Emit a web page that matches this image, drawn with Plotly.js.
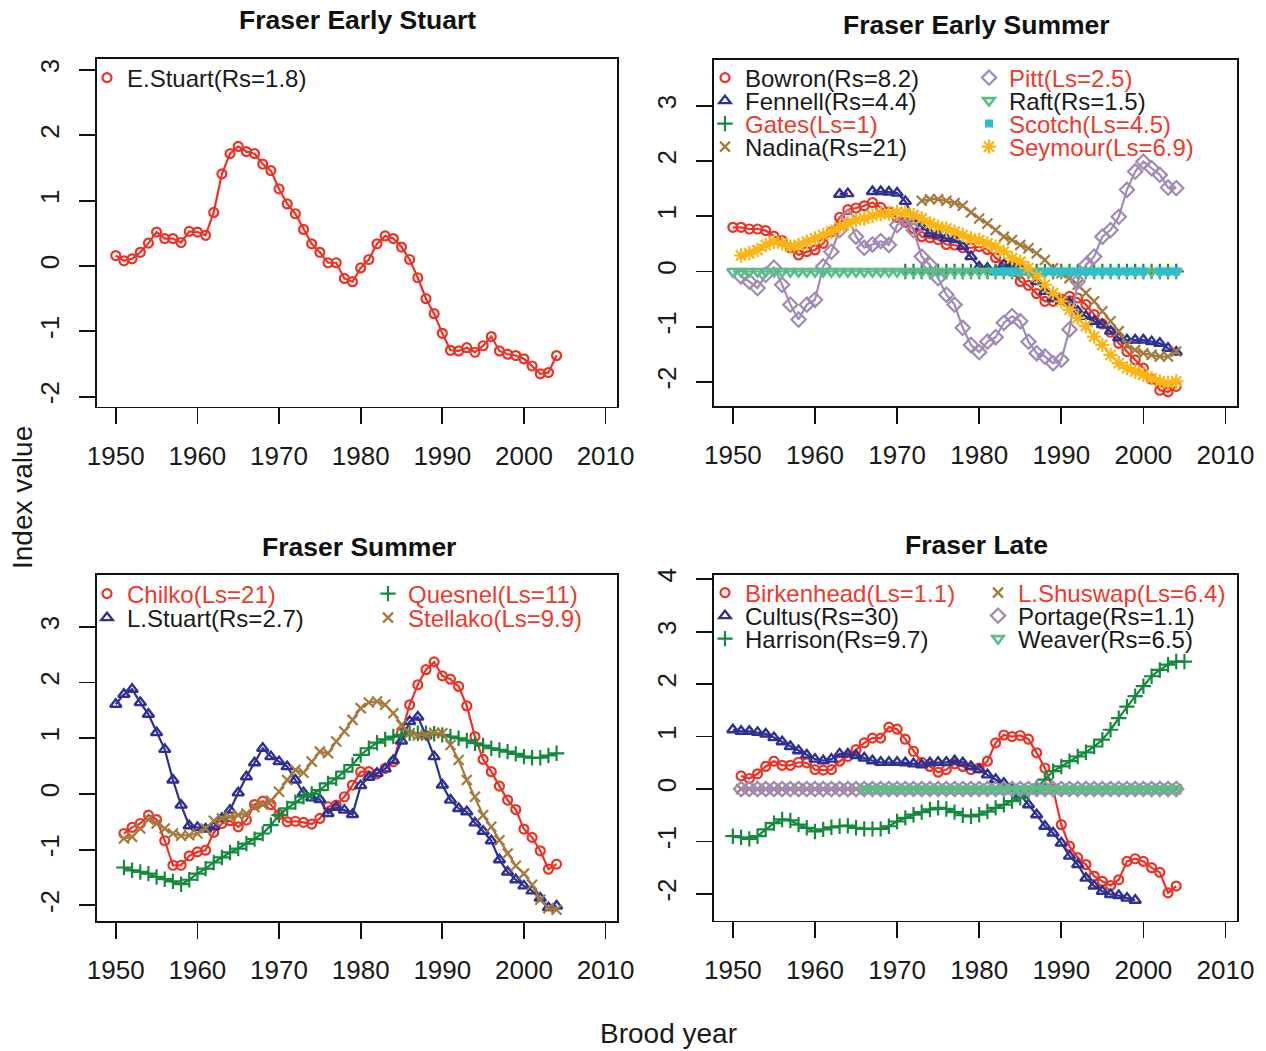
<!DOCTYPE html>
<html>
<head>
<meta charset="utf-8">
<script src="https://cdn.plot.ly/plotly-3.0.1.min.js"></script>
<style>html,body{margin:0;padding:0;background:#fff}#chart{width:1266px;height:1051px}</style>
</head>
<body>
<div id="chart"></div>
<script>
// ---------------- DATA ----------------
const years = [1950,1951,1952,1953,1954,1955,1956,1957,1958,1959,
               1960,1961,1962,1963,1964,1965,1966,1967,1968,1969,
               1970,1971,1972,1973,1974,1975,1976,1977,1978,1979,
               1980,1981,1982,1983,1984,1985,1986,1987,1988,1989,
               1990,1991,1992,1993,1994,1995,1996,1997,1998,1999,
               2000,2001,2002,2003,2004,2005];
const xTicks = [1950,1960,1970,1980,1990,2000,2010];

// Fraser Early Stuart
const eStuart = [0.16,0.08,0.11,0.21,0.35,0.52,0.42,0.42,0.36,0.53,
                 0.52,0.47,0.82,1.41,1.72,1.83,1.75,1.72,1.56,1.46,
                 1.18,0.95,0.80,0.56,0.34,0.21,0.05,0.05,-0.19,-0.24,
                 -0.03,0.10,0.34,0.46,0.42,0.29,0.10,-0.18,-0.50,-0.73,
                 -1.03,-1.29,-1.30,-1.25,-1.32,-1.22,-1.08,-1.30,-1.35,-1.37,
                 -1.42,-1.53,-1.65,-1.63,-1.37,null];

// Fraser Early Summer
const bowron = [0.80,0.80,0.77,0.77,0.74,0.64,0.56,0.43,0.30,0.36,
                0.39,0.51,0.72,0.98,1.12,1.15,1.19,1.25,1.16,1.08,
                0.98,0.89,0.78,0.63,0.61,0.58,0.49,0.48,0.43,0.43,
                0.45,0.40,0.25,0.12,0.00,-0.18,-0.25,-0.40,-0.54,-0.54,
                -0.50,-0.45,-0.48,-0.60,-0.78,-0.95,-1.10,-1.30,-1.45,-1.60,
                -1.75,-1.95,-2.15,-2.18,-2.08,null];
const fennell = [null,null,null,null,null,null,null,null,null,null,
                 null,null,null,1.40,1.41,null,null,1.45,1.45,1.44,
                 1.42,1.27,0.96,0.81,0.69,0.66,0.60,0.58,0.45,0.27,
                 0.08,0.06,0.00,0.12,0.12,0.06,0.00,-0.18,-0.36,-0.48,
                 -0.54,-0.57,-0.72,-0.81,-0.90,-0.96,-1.08,-1.20,-1.24,-1.24,
                 -1.24,-1.27,-1.30,-1.39,-1.46,null];
const gates = [null,null,null,null,null,null,null,null,null,null,
               null,null,null,null,null,null,null,null,null,null,
               null,0,0,0,0,0,0,0,0,0,
               0,0,0,0,0,0,0,0,0,0,
               0,0,0,0,0,0,0,0,0,0,
               0,0,0,0,0,null];
const nadina = [null,null,null,null,null,null,null,null,null,null,
                null,null,null,null,null,null,null,null,null,null,
                null,null,null,1.28,1.31,1.31,1.28,1.24,1.19,1.07,
                0.96,0.87,0.75,0.63,0.57,0.48,0.42,0.33,0.21,0.06,
                -0.03,-0.12,-0.24,-0.39,-0.54,-0.72,-0.90,-1.08,-1.33,-1.42,
                -1.48,-1.51,-1.54,-1.54,-1.45,null];
const pitt = [null,-0.09,-0.18,-0.30,-0.06,0.07,-0.24,-0.60,-0.87,-0.60,
              -0.51,0.09,0.36,0.75,0.98,0.63,0.43,0.49,0.55,0.48,
              0.84,0.96,0.75,0.27,0.12,-0.12,-0.42,-0.60,-1.02,-1.33,
              -1.46,-1.27,-1.19,-0.93,-0.81,-0.90,-1.27,-1.48,-1.54,-1.66,
              -1.60,-1.05,-0.18,0.12,0.27,0.63,0.75,0.99,1.48,1.81,
              1.99,1.87,1.75,1.52,1.51,null];
const raft = [0,0,0,0,0,0,0,0,0,0,
              0,0,0,0,0,0,0,0,0,0,
              0,0,0,0,0,0,0,0,0,0,
              0,0,0,0,0,0,0,0,0,0,
              0,0,0,0,0,0,0,0,0,0,
              0,0,0,0,0,null];
const scotch = [null,null,null,null,null,null,null,null,null,null,
                null,null,null,null,null,null,null,null,null,null,
                null,null,null,null,null,null,null,null,null,null,
                null,null,0,0,0,0,0,0,0,0,
                0,0,0,0,0,0,0,0,0,0,
                0,null,0,0,0,null];
const seymour = [null,0.29,0.33,0.39,0.48,0.54,0.51,0.45,0.48,0.54,
                 0.60,0.66,0.72,0.81,0.87,0.93,0.96,1.01,1.04,1.05,
                 1.08,1.07,1.02,0.96,0.87,0.81,0.78,0.72,0.66,0.60,
                 0.57,0.51,0.45,0.36,0.24,0.18,0.06,-0.09,-0.24,-0.39,
                 -0.54,-0.69,-0.84,-0.99,-1.18,-1.33,-1.51,-1.66,-1.75,-1.81,
                 -1.87,-1.93,-1.99,-2.02,-1.99,null];

// Fraser Summer
const chilko = [null,-0.71,-0.60,-0.53,-0.38,-0.46,-0.84,-1.28,-1.28,-1.11,
                -1.04,-1.01,-0.69,-0.53,-0.48,-0.59,-0.47,-0.19,-0.13,-0.19,
                -0.37,-0.50,-0.49,-0.51,-0.54,-0.44,-0.23,-0.20,-0.05,0.16,
                0.40,0.40,0.36,0.46,0.58,1.09,1.60,1.96,2.23,2.37,
                2.12,2.06,1.93,1.58,1.03,0.62,0.40,0.14,-0.11,-0.28,
                -0.63,-0.78,-1.02,-1.35,-1.26,null];
const lStuart = [1.61,1.79,1.88,1.64,1.43,1.10,0.80,0.25,-0.20,-0.57,
                 -0.60,-0.63,-0.59,-0.44,-0.29,0.02,0.31,0.56,0.82,0.67,
                 0.58,0.49,0.25,0.02,-0.07,-0.10,-0.35,-0.24,-0.29,-0.37,
                 0.15,0.30,0.37,0.45,0.60,0.95,1.30,1.38,1.05,0.67,
                 0.16,-0.11,-0.26,-0.32,-0.52,-0.67,-0.84,-1.18,-1.40,-1.54,
                 -1.65,-1.74,-1.87,-2.04,-2.01,null];
const quesnel = [null,-1.32,-1.37,-1.40,-1.43,-1.49,-1.53,-1.57,-1.62,-1.54,
                 -1.43,-1.34,-1.23,-1.14,-1.05,-0.98,-0.89,-0.81,-0.71,-0.56,
                 -0.38,-0.26,-0.15,-0.05,0.00,0.07,0.19,0.28,0.40,0.52,
                 0.70,0.82,0.92,0.98,1.03,1.06,1.09,1.09,1.09,1.08,
                 1.06,1.03,1.00,0.96,0.91,0.87,0.82,0.79,0.76,0.72,
                 0.67,0.65,0.65,0.69,0.73,null];
const stellako = [null,-0.80,-0.77,-0.62,-0.46,-0.53,-0.62,-0.71,-0.75,-0.74,
                  -0.71,-0.62,-0.48,-0.44,-0.41,-0.38,-0.35,-0.24,-0.19,-0.12,
                  0.04,0.25,0.43,0.38,0.58,0.76,0.73,0.94,1.12,1.33,
                  1.54,1.64,1.66,1.60,1.45,1.24,1.09,1.05,1.06,1.10,
                  1.09,0.88,0.61,0.25,-0.05,-0.38,-0.59,-0.83,-1.07,-1.29,
                  -1.43,-1.63,-1.90,-2.05,-2.08,null];

// Fraser Late
const birkenhead = [null,0.25,0.20,0.29,0.43,0.53,0.45,0.45,0.51,0.50,
                    0.37,0.36,0.37,0.53,0.62,0.75,0.88,0.97,0.97,1.18,
                    1.14,0.95,0.72,0.51,0.43,0.32,0.37,0.48,0.43,0.37,
                    0.40,0.53,0.88,1.03,1.00,1.02,0.95,0.69,0.40,0.00,
                    -0.68,-1.09,-1.31,-1.44,-1.66,-1.76,-1.84,-1.73,-1.38,-1.33,
                    -1.38,-1.50,-1.59,-1.98,-1.85,null];
const cultus = [1.13,1.10,1.10,1.08,1.05,0.98,0.90,0.81,0.73,0.65,
                0.57,0.54,0.57,0.67,0.67,0.64,0.59,0.54,0.51,0.51,
                0.51,0.50,0.48,0.46,0.50,0.51,0.51,0.54,0.50,0.43,
                0.37,0.27,0.18,0.11,-0.01,-0.11,-0.30,-0.49,-0.71,-0.84,
                -1.03,-1.28,-1.44,-1.70,-1.85,-1.95,-2.01,-2.03,-2.08,-2.12,
                null,null,null,null,null,null];
const harrison = [-0.90,-0.92,-0.95,-0.90,-0.77,-0.65,-0.58,-0.60,-0.68,-0.74,
                  -0.81,-0.77,-0.73,-0.71,-0.70,-0.74,-0.76,-0.76,-0.76,-0.71,
                  -0.62,-0.55,-0.49,-0.44,-0.39,-0.36,-0.38,-0.44,-0.50,-0.52,
                  -0.49,-0.43,-0.36,-0.30,-0.23,-0.17,-0.08,0.02,0.18,0.34,
                  0.43,0.53,0.62,0.70,0.81,0.94,1.13,1.35,1.57,1.77,
                  1.96,2.15,2.27,2.37,2.43,2.43];
const lShuswap = [null,0,0,0,0,0,0,0,0,0,
                  0,0,0,0,0,0,0,0,0,0,
                  0,0,0,0,0,0,0,0,0,0,
                  0,0,0,0,0,0,0,0,0,0,
                  0,0,0,0,0,0,0,0,0,0,
                  0,0,0,0,0,null];
const portage = [null,0,0,0,0,0,0,0,0,0,
                 0,0,0,0,0,0,0,0,0,0,
                 0,0,0,0,0,0,0,0,0,0,
                 0,0,0,0,0,0,0,0,0,0,
                 0,0,0,0,0,0,0,0,0,0,
                 0,0,0,0,0,null];
const weaver = [null,null,null,null,null,null,null,null,null,null,
                null,null,null,null,null,null,0,0,0,0,
                0,0,0,0,0,0,0,0,0,0,
                0,0,0,0,0,0,0,0,0,0,
                0,0,0,0,0,0,0,0,0,0,
                0,0,0,0,0,null];

// Legend labels
const labelsP1 = ["E.Stuart(Rs=1.8)"];
const labelsP2 = ["Bowron(Rs=8.2)","Fennell(Rs=4.4)","Gates(Ls=1)","Nadina(Rs=21)",
                  "Pitt(Ls=2.5)","Raft(Rs=1.5)","Scotch(Ls=4.5)","Seymour(Ls=6.9)"];
const labelsP3 = ["Chilko(Ls=21)","L.Stuart(Rs=2.7)","Quesnel(Ls=11)","Stellako(Ls=9.9)"];
const labelsP4 = ["Birkenhead(Ls=1.1)","Cultus(Rs=30)","Harrison(Rs=9.7)",
                  "L.Shuswap(Ls=6.4)","Portage(Rs=1.1)","Weaver(Rs=6.5)"];
const titles = ["Fraser Early Stuart","Fraser Early Summer","Fraser Summer","Fraser Late"];

// ---------------- STYLE ----------------
const W = 1266, H = 1051;
const FONT = "Liberation Sans, Arial, Helvetica, sans-serif";
const RED = "#ec3326", BLUE = "#2e3192", GREEN = "#138a3c", BROWN = "#a57a3c",
      PURPLE = "#a08ab6", MINT = "#5cbc8b", CYAN = "#2fbfcc", ORANGE = "#fdb515";
const TXT_RED = "#ee3a2c", TXT_BLK = "#1a1a1a";

const sym = {
  circle: {symbol: "circle-open", size: 9, lw: 2.2},
  tri: {symbol: "triangle-up-open", size: 10, lw: 2.4},
  plus: {symbol: "cross-thin-open", size: 11, lw: 2.2},
  x: {symbol: "x-thin-open", size: 10, lw: 2.2},
  diamond: {symbol: "diamond-open", size: 11, lw: 2.2},
  tridown: {symbol: "triangle-down-open", size: 10, lw: 2.6},
  square: {symbol: "square", size: 8, lw: 0},
  star: {symbol: "asterisk-open", size: 12, lw: 2.2}
};

// box pixel geometry of the four panels [left, right, top, bottom]
const boxes = [
  [97, 617, 59, 406.5],
  [714, 1237, 60, 405.7],
  [97, 617, 575, 920.7],
  [714, 1237, 575, 920.5]
];
const yRanges = [[-2.15, 3.168], [-2.43, 3.83], [-2.275, 3.93], [-2.507, 4.08]];
const yTicks = [[-2,-1,0,1,2,3],[-2,-1,0,1,2,3],[-2,-1,0,1,2,3],[-2,-1,0,1,2,3,4]];

// series: [values, color, symbol, label, textColor, panel, legend text start px, legend row centre px, connectgaps]
const series = [
  [eStuart, RED, "circle", labelsP1[0], TXT_BLK, 0, 127, 78],
  [bowron, RED, "circle", labelsP2[0], TXT_BLK, 1, 745, 78],
  [fennell, BLUE, "tri", labelsP2[1], TXT_BLK, 1, 745, 101],
  [gates, GREEN, "plus", labelsP2[2], TXT_RED, 1, 745, 124],
  [nadina, BROWN, "x", labelsP2[3], TXT_BLK, 1, 745, 147],
  [pitt, PURPLE, "diamond", labelsP2[4], TXT_RED, 1, 1009, 78],
  [raft, MINT, "tridown", labelsP2[5], TXT_BLK, 1, 1009, 101],
  [scotch, CYAN, "square", labelsP2[6], TXT_RED, 1, 1009, 124],
  [seymour, ORANGE, "star", labelsP2[7], TXT_RED, 1, 1009, 147],
  [chilko, RED, "circle", labelsP3[0], TXT_RED, 2, 127, 594],
  [lStuart, BLUE, "tri", labelsP3[1], TXT_BLK, 2, 127, 618],
  [quesnel, GREEN, "plus", labelsP3[2], TXT_RED, 2, 408, 594],
  [stellako, BROWN, "x", labelsP3[3], TXT_RED, 2, 408, 618],
  [birkenhead, RED, "circle", labelsP4[0], TXT_RED, 3, 745, 593],
  [cultus, BLUE, "tri", labelsP4[1], TXT_BLK, 3, 745, 616],
  [harrison, GREEN, "plus", labelsP4[2], TXT_BLK, 3, 745, 639],
  [lShuswap, BROWN, "x", labelsP4[3], TXT_RED, 3, 1018, 593],
  [portage, PURPLE, "diamond", labelsP4[4], TXT_BLK, 3, 1018, 616],
  [weaver, MINT, "tridown", labelsP4[5], TXT_BLK, 3, 1018, 639]
];

const axSuffix = ["", "2", "3", "4"];
const traces = [];
const layout = {
  width: W, height: H,
  margin: {l: 0, r: 0, t: 0, b: 0},
  paper_bgcolor: "#fff", plot_bgcolor: "#fff",
  font: {family: FONT, color: TXT_BLK},
  annotations: [], showlegend: true
};

boxes.forEach((b, i) => {
  const s = axSuffix[i];
  layout["xaxis" + s] = {
    domain: [b[0] / W, b[1] / W], range: [1947.7, 2011.4], anchor: "y" + s,
    tickmode: "array", tickvals: xTicks, ticktext: xTicks.map(String),
    ticks: "outside", ticklen: 16, tickwidth: 1.8, tickcolor: "#111",
    showline: true, mirror: true, linecolor: "#111", linewidth: 1.8,
    showgrid: false, zeroline: false, fixedrange: true,
    tickfont: {family: FONT, size: 26, color: "#1a1a1a"}, ticklabelstandoff: 9
  };
  layout["yaxis" + s] = {
    domain: [1 - b[3] / H, 1 - b[2] / H], range: yRanges[i], anchor: "x" + s,
    tickmode: "array", tickvals: yTicks[i], ticktext: yTicks[i].map(String),
    ticks: "outside", ticklen: 16, tickwidth: 1.8, tickcolor: "#111", tickangle: -90,
    showline: true, mirror: true, linecolor: "#111", linewidth: 1.8,
    showgrid: false, zeroline: false, fixedrange: true,
    tickfont: {family: FONT, size: 26, color: "#1a1a1a"}, ticklabelstandoff: 10
  };
});

series.forEach((sr, k) => {
  const [vals, col, sk, label, tcol, p, lx, ly, connect] = sr;
  const s = axSuffix[p];
  traces.push({
    x: years, y: vals, type: "scatter", mode: "lines",
    xaxis: "x" + s, yaxis: "y" + s, connectgaps: !!connect,
    line: {color: col, width: 2.2}, showlegend: false, hoverinfo: "skip"
  });
  const legName = k === 0 ? "legend" : "legend" + (k + 1);
  traces.push({
    x: years, y: vals, type: "scatter", mode: "markers",
    xaxis: "x" + s, yaxis: "y" + s, name: label, legend: legName,
    marker: {symbol: sym[sk].symbol, size: sym[sk].size, color: col,
             line: {color: col, width: sym[sk].lw}},
    showlegend: true
  });
  layout[legName] = {
    x: (lx - 40) / W, y: 1 - ly / H, xanchor: "left", yanchor: "middle",
    bgcolor: "rgba(0,0,0,0)", borderwidth: 0, itemwidth: 30,
    font: {family: FONT, size: 24, color: tcol}
  };
});

// panel titles
const titlePos = [[357, 20], [976, 25], [359, 547], [976, 545]];
titles.forEach((t, i) => {
  layout.annotations.push({
    text: "<b>" + t + "</b>", x: titlePos[i][0] / W, y: 1 - titlePos[i][1] / H,
    xref: "paper", yref: "paper", xanchor: "center", yanchor: "middle",
    showarrow: false, font: {family: FONT, size: 26.5, color: "#111"}
  });
});
layout.annotations.push({
  text: "Index value", x: 22 / W, y: 1 - 498 / H, xref: "paper", yref: "paper",
  xanchor: "center", yanchor: "middle", textangle: -90, showarrow: false,
  font: {family: FONT, size: 28, color: "#1a1a1a"}
});
layout.annotations.push({
  text: "Brood year", x: 668 / W, y: 1 - 1033 / H, xref: "paper", yref: "paper",
  xanchor: "center", yanchor: "middle", showarrow: false,
  font: {family: FONT, size: 28, color: "#1a1a1a"}
});

Plotly.newPlot("chart", traces, layout, {displayModeBar: false, staticPlot: true});
</script>
</body>
</html>
